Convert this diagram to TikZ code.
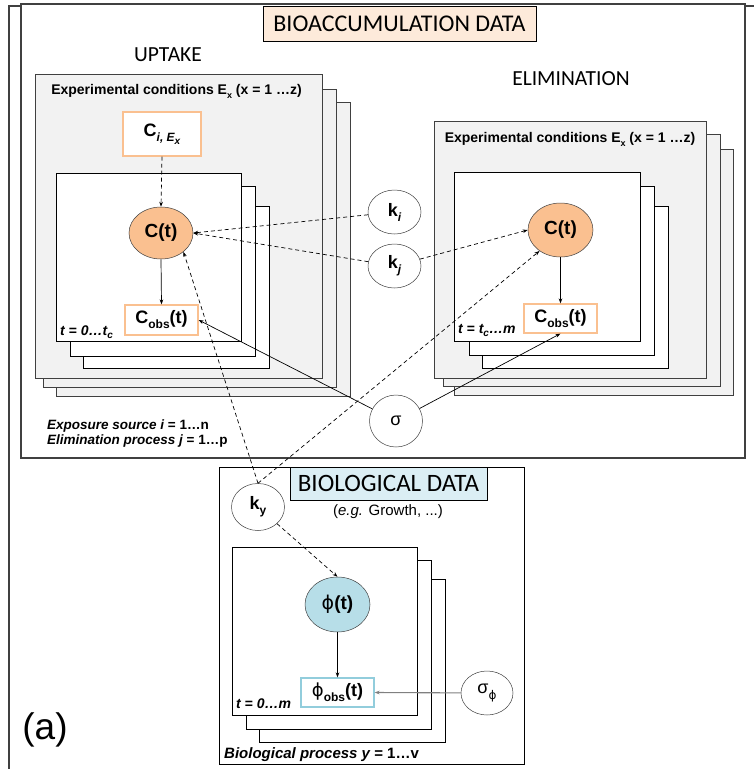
\documentclass[tikz,border=0pt]{standalone}
\usepackage{fontspec}
\setmainfont{Liberation Sans}
\newfontfamily\calib{Carlito}
\newfontfamily\djv{DejaVu Sans}
\usetikzlibrary{shapes.geometric,arrows.meta}
\definecolor{peach}{RGB}{253,234,218}
\definecolor{panelgray}{RGB}{242,242,242}
\definecolor{orangefill}{RGB}{250,192,144}
\definecolor{orangeline}{RGB}{250,192,144}
\definecolor{bluefill}{RGB}{183,222,232}
\definecolor{blueline}{RGB}{146,205,220}
\definecolor{bluelabel}{RGB}{219,238,244}
\definecolor{framegray}{RGB}{64,64,64}
\newcommand\lowsub[2]{\raisebox{-0.28em}{\fontsize{#1}{#1}\selectfont #2}}
\newcommand\phisym{{\djv\mdseries\upshape ϕ}}
\begin{document}
\begin{tikzpicture}[x=1pt,y=-1pt,
  panel/.style={draw=framegray, line width=1pt, fill=panelgray},
  plate/.style={draw=black, line width=0.9pt, fill=white},
  var/.style={ellipse, draw=framegray, line width=0.5pt, inner sep=0pt,
    minimum width=53pt, minimum height=44pt, fill=white,
    font=\fontsize{18}{20}\selectfont\bfseries},
  obsbox/.style={rectangle, line width=1.2pt, fill=white, inner sep=0pt,
    minimum width=73pt, minimum height=29pt, font=\fontsize{18}{20}\selectfont\bfseries},
  lbl/.style={font=\fontsize{14}{16}\selectfont\bfseries},
  note/.style={font=\fontsize{13.5}{15}\selectfont\bfseries\itshape, anchor=base west, inner sep=0pt},
  conn/.style={line width=0.7pt, -{Stealth[length=5pt,width=3.6pt]}},
  dconn/.style={conn, dash pattern=on 4pt off 3pt},
]
\useasboundingbox (0,0) rectangle (754,769);
% outer frame (runs off the page)
\draw[framegray, line width=1.3pt] (9,800) -- (9,6) -- (800,6);
% bioaccumulation box
\draw[line width=1.3pt, draw=framegray, fill=white] (21,4) rectangle (745,458);
\node[draw=black, line width=0.8pt, fill=peach, minimum width=273pt, minimum height=35pt, inner sep=0pt,
  font=\calib\fontsize{24}{26}\selectfont] (biolbl) at (399.5,23.5) {BIOACCUMULATION DATA};
\node[font=\calib\fontsize{21.5}{23}\selectfont] (uptake) at (168,55) {UPTAKE};
\node[font=\calib\fontsize{21.5}{23}\selectfont] (elim) at (571,79) {ELIMINATION};

% uptake panels
\draw[panel] (56,102) rectangle (350,396);
\draw[panel] (43,89) rectangle (336,387);
\draw[panel] (35,74) rectangle (322,378);
\node[lbl] (expu) at (176.5,91) {Experimental conditions E\lowsub{9}{x} (x = 1 …z)};
\draw[plate] (83,206) rectangle (269,368);
\draw[plate] (70,186) rectangle (255,356);
\draw[plate] (56,173) rectangle (241,341);
\node[note, font=\fontsize{14}{15}\selectfont\bfseries\itshape] (tu) at (60,335) {t = 0…t\lowsub{10}{c}};

% elimination panels
\draw[panel] (454,149) rectangle (733,395);
\draw[panel] (443,134) rectangle (720,386);
\draw[panel] (434,121) rectangle (706,378);
\node[lbl] (expe) at (570,139) {Experimental conditions E\lowsub{9}{x} (x = 1 …z)};
\draw[plate] (482,206) rectangle (668,368);
\draw[plate] (469,186) rectangle (654,355);
\draw[plate] (454,172) rectangle (640,341);
\node[note, font=\fontsize{14}{15}\selectfont\bfseries\itshape] (te) at (458,333) {t = t\lowsub{10}{c}…m};

\node[note] (expo) at (47,429) {Exposure source i {\upshape = 1…n}};
\node[note] (elpr) at (47,444) {Elimination process j {\upshape = 1…p}};

% biological box
\draw[line width=1pt, draw=black, fill=white] (219,467) rectangle (524,764);
\node[draw=black, line width=0.8pt, fill=bluelabel, minimum width=197pt, minimum height=33pt, inner sep=0pt,
  font=\calib\fontsize{25}{27}\selectfont] (biollbl) at (388.5,483.5) {BIOLOGICAL DATA};
\node[font=\fontsize{15}{17}\selectfont] (eg) at (388,512) {(\textit{e.g.} Growth, ...)};
\draw[plate] (259,579) rectangle (445,742);
\draw[plate] (246,560) rectangle (431,729);
\draw[plate] (232,547) rectangle (417,715);
\node[note, font=\fontsize{14}{15}\selectfont\bfseries\itshape] (tb) at (236,708) {t = 0…m};
\node[note, font=\fontsize{15}{17}\selectfont\bfseries\itshape] (bp) at (224,758) {Biological process y {\upshape = 1…v}};

\node[font=\fontsize{37}{40}\selectfont] (alabel) at (45,730) {(a)};

% variable nodes
\node[obsbox, draw=orangeline, minimum width=78pt, minimum height=44pt] (ci) at (162,134)
  {C\lowsub{12}{\itshape i, E\lowsub{10}{x}}};
\node[var, fill=orangefill, minimum width=64pt, minimum height=52pt, font=\fontsize{19}{21}\selectfont\bfseries] (cu) at (161,233) {C(t)};
\node[obsbox, draw=orangeline, minimum height=30pt] (cobsu) at (161.5,320) {C\lowsub{12}{obs}(t)};
\node[var, fill=orangefill, minimum width=65pt, minimum height=54pt, font=\fontsize{19}{21}\selectfont\bfseries] (ce) at (560.5,230) {C(t)};
\node[obsbox, draw=orangeline] (cobse) at (560.5,318.5) {C\lowsub{12}{obs}(t)};
\node[var] (ki) at (394.5,212) {k\lowsub{12}{\itshape i}};
\node[var] (kj) at (394.5,266) {k\lowsub{12}{\itshape j}};
\node[var, minimum height=52pt, font=\fontsize{18}{20}\selectfont] (sig) at (396,421) {σ};
\node[var, minimum height=47pt] (ky) at (258,507) {k\lowsub{12}{y}};
\node[var, fill=bluefill, minimum width=65pt, minimum height=55pt, font=\fontsize{19}{21}\selectfont\bfseries] (phi) at (337.5,604.5) {\phisym(t)};
\node[obsbox, draw=blueline] (phiobs) at (337.5,692.5) {\phisym\lowsub{12}{obs}(t)};
\node[var, minimum width=52pt, font=\fontsize{18}{20}\selectfont] (sigphi) at (487,693) {σ\lowsub{12}{\phisym}};

% connectors
\draw[dconn] (ci.south) -- (cu.north);
\draw[conn] (cu.south) -- (cobsu.north);
\draw[conn] (ce.south) -- (cobse.north);
\draw[dconn] (ki) -- (cu.east);
\draw[dconn] (kj) -- (cu.east);
\draw[dconn] (kj) -- (ce.west);
\draw[conn] (sig) -- (cobsu.east);
\draw[conn] (sig) -- (cobse.south);
\draw[dconn] (ky.north) -- (cu.-40);
\draw[dconn] (ky.north) -- (ce.-135);
\draw[dconn] (ky) -- (phi.north);
\draw[conn] (phi.south) -- (phiobs.north);
\draw[conn, draw=gray, line width=1.1pt] (sigphi) -- (phiobs.east);
\end{tikzpicture}
\end{document}
